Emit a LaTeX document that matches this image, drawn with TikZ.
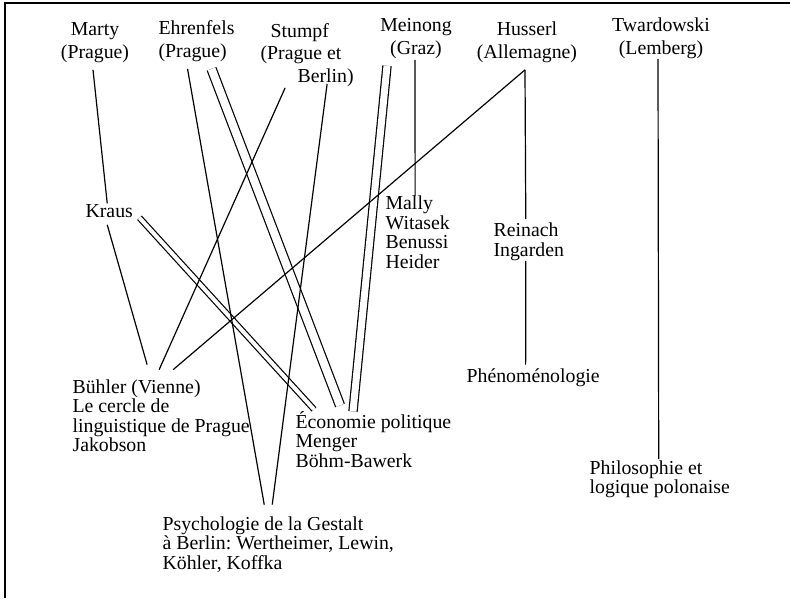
\documentclass[tikz,border=0pt]{standalone}
\usepackage{fontspec}
\setmainfont{Liberation Serif}
\frenchspacing
\begin{document}
\begin{tikzpicture}[x=1pt,y=-1pt,line width=1.2pt]
			\tikzstyle{maitre}=[inner xsep=0pt,inner ysep=7pt,align=center,anchor=base,font=\fontsize{19.8pt}{22.5pt}\selectfont]
			\tikzstyle{ecole}=[inner sep=3pt,align=left,anchor=base west,font=\fontsize{19.8pt}{19.6pt}\selectfont]
			\tikzstyle{fort}=[double,double distance=7pt]
			
			\useasboundingbox (0,0) rectangle (790,598);
			\draw[line width=1.7pt] (5,598) -- (5,3) -- (790,3);
			
			\node[maitre] (marty) at (95,58) {Marty\\(Prague)};
			\node[maitre,align=left,anchor=base west] (ehrenfels) at (158,57) {Ehrenfels\\(Prague)};
			\node[maitre,align=left,anchor=base west] (stumpf) at (260,82) {\hspace*{10pt}Stumpf\\(Prague et\\\hspace*{37pt}Berlin)};
			\node[maitre] (meinong) at (416,54) {Meinong\\(Graz)};
			\node[maitre] (husserl) at (527,58) {Husserl\\(Allemagne)};
			\node[maitre] (twardowski) at (661,54) {Twardowski\\(Lemberg)};
			
			\node[ecole] (kraus) at (82,217) {Kraus};
			\node[ecole] (mally) at (382,268.3) {Mally\\Witasek\\Benussi\\Heider};
			\node[ecole] (reinach) at (490,256.1) {Reinach\\Ingarden};
			\node[ecole] (phenomeno) at (463,382) {Phénoménologie};
			\node[ecole] (buhler) at (69,451.8) {Bühler (Vienne)\\Le cercle de\\linguistique de Prague\\Jakobson};
			\node[ecole] (economie) at (292,467.2) {Économie politique\\Menger\\Böhm-Bawerk};
			\node[ecole] (gestalt) at (159,569.2) {Psychologie de la Gestalt\\à Berlin: Wertheimer, Lewin,\\Köhler, Koffka};
			\node[ecole] (pologne) at (586,493.6) {Philosophie et\\logique polonaise};
			
			\draw[fort,double distance=4pt] ([xshift=3pt,yshift=3pt]kraus.south east) -- ([xshift=22pt,yshift=-2pt]economie.north west);
			\draw[fort,double distance=8pt] ([xshift=15pt]ehrenfels.south) -- ([xshift=48pt,yshift=2pt]economie.north west);
			\draw[fort] ([xshift=-29pt]meinong.south) -- ([xshift=61pt,yshift=-4pt]economie.north west);
			
			\draw ([xshift=-2pt]marty.south) -- ([xshift=-2pt,yshift=-3pt]kraus.north);
			\draw ([xshift=-2pt,yshift=-4pt]kraus.south) -- ([xshift=-14pt,yshift=11pt]buhler.north);
			\draw ([xshift=-9pt]ehrenfels.south) -- ([xshift=-14pt,yshift=8pt]gestalt.north);
			\draw ([xshift=-22pt,yshift=6pt]stumpf.south) -- ([xshift=-2pt,yshift=6pt]buhler.north);
			\draw ([xshift=20pt,yshift=10pt]stumpf.south) -- ([xshift=-6pt,yshift=8pt]gestalt.north);
			\draw ([xshift=-1pt,yshift=6pt]meinong.south) -- ([xshift=-2.5pt,yshift=-4pt]mally.north);
			\draw ([xshift=-2pt]husserl.south) -- ([xshift=12pt,yshift=6pt]buhler.north);
			\draw ([xshift=-2pt]husserl.south) -- ([xshift=-3pt]reinach.north);
			\draw ([xshift=-3pt,yshift=3pt]reinach.south) -- ([xshift=-7.5pt]phenomeno.north);
			\draw ([xshift=-3pt,yshift=7pt]twardowski.south) -- ([xshift=-1pt,yshift=-2.5pt]pologne.north);
			
			
			\end{tikzpicture}
\end{document}
